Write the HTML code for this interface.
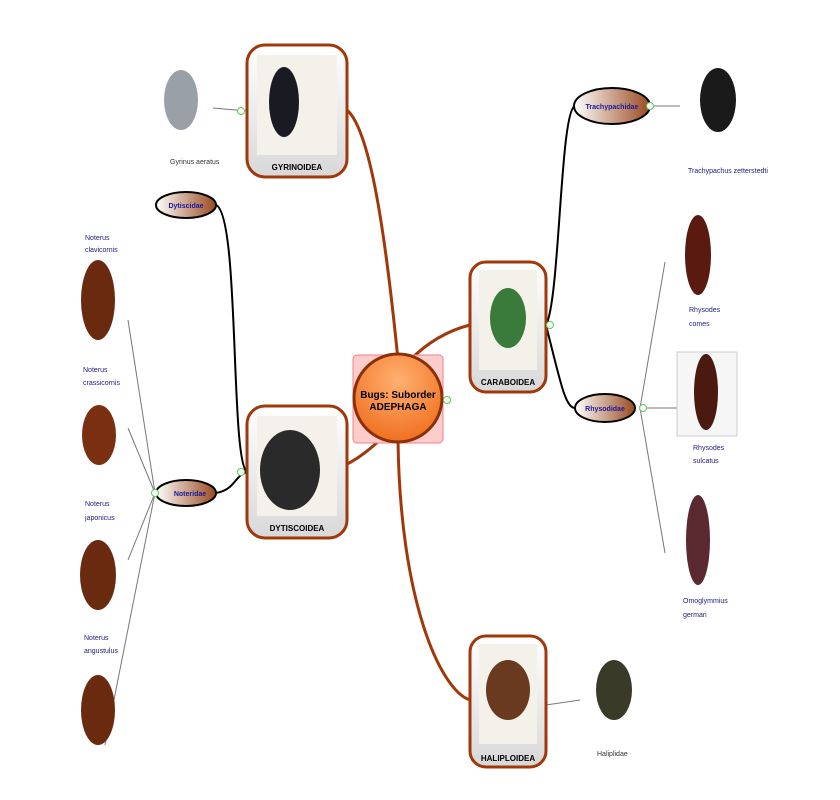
<!DOCTYPE html>
<html><head><meta charset="utf-8"><style>
html,body{margin:0;padding:0;background:#fff;}
svg{display:block;font-family:"Liberation Sans",sans-serif;}
</style></head><body>
<svg width="840" height="800" viewBox="0 0 840 800" xmlns="http://www.w3.org/2000/svg">
<defs>
<radialGradient id="og" cx="0.5" cy="0.3" r="0.7"><stop offset="0" stop-color="#ffb070"/><stop offset="1" stop-color="#f07020"/></radialGradient>
<linearGradient id="eg" x1="0" x2="1"><stop offset="0" stop-color="#fff"/><stop offset="1" stop-color="#9a4a20"/></linearGradient>
<linearGradient id="bg" x1="0" x2="0" y1="0" y2="1"><stop offset="0" stop-color="#fff"/><stop offset="1" stop-color="#d8d8d8"/></linearGradient>
</defs>
<g fill="none" stroke="#777" stroke-width="1">
<line x1="155" y1="493" x2="128" y2="320"/><line x1="155" y1="493" x2="128" y2="428"/>
<line x1="155" y1="493" x2="128" y2="560"/><line x1="155" y1="493" x2="105" y2="745"/>
<line x1="640" y1="408" x2="665" y2="262"/><line x1="640" y1="408" x2="677" y2="408"/>
<line x1="640" y1="408" x2="665" y2="553"/><line x1="650" y1="106" x2="680" y2="106"/>
<line x1="546" y1="705" x2="580" y2="700"/><line x1="213" y1="108" x2="247" y2="111"/>
</g>
<g fill="none" stroke="#a0380a" stroke-width="3">
<path d="M398 360 C385 230 370 130 347 110"/>
<path d="M385 435 C360 460 340 470 322 472"/>
<path d="M410 360 C430 340 450 330 470 325"/>
<path d="M398 440 C400 600 440 690 470 700"/>
</g>
<g fill="none" stroke="#000" stroke-width="2">
<path d="M546 325 C560 300 560 110 575 106"/>
<path d="M546 325 C560 380 565 408 575 408"/>
<path d="M216 205 C240 215 230 460 247 472"/>
<path d="M216 493 C235 490 235 475 247 472"/>
</g>
<rect x="353" y="355" width="90" height="88" rx="4" fill="#ffcccc" stroke="#f08080"/>
<circle cx="398" cy="398" r="44" fill="url(#og)" stroke="#8a3008" stroke-width="3"/>
<text x="398" y="398" font-size="10" font-weight="bold" text-anchor="middle">Bugs: Suborder</text>
<text x="398" y="410" font-size="10" font-weight="bold" text-anchor="middle">ADEPHAGA</text>
<g fill="url(#bg)" stroke="#a0380a" stroke-width="3">
<rect x="247" y="45" width="100" height="132" rx="18"/>
<rect x="247" y="406" width="100" height="132" rx="18"/>
<rect x="470" y="262" width="76" height="130" rx="16"/>
<rect x="470" y="636" width="76" height="131" rx="16"/>
</g>
<g fill="#f4f1ea">
<rect x="257" y="55" width="80" height="100"/><rect x="257" y="416" width="80" height="100"/>
<rect x="479" y="270" width="58" height="100"/><rect x="479" y="644" width="58" height="100"/>
</g>
<g font-size="8" font-weight="bold" text-anchor="middle">
<text x="297" y="170">GYRINOIDEA</text><text x="297" y="531">DYTISCOIDEA</text>
<text x="508" y="385">CARABOIDEA</text><text x="508" y="761">HALIPLOIDEA</text>
</g>
<g>
<ellipse cx="284" cy="102" rx="15" ry="35" fill="#1a1a22"/>
<ellipse cx="290" cy="470" rx="30" ry="40" fill="#2a2a2a"/>
<ellipse cx="508" cy="318" rx="18" ry="30" fill="#3a7a3a"/>
<ellipse cx="508" cy="690" rx="22" ry="30" fill="#6a3a20"/>
<ellipse cx="181" cy="100" rx="17" ry="30" fill="#9aa0a8"/>
<ellipse cx="98" cy="300" rx="17" ry="40" fill="#6a2a10"/>
<ellipse cx="99" cy="435" rx="17" ry="30" fill="#7a3010"/>
<ellipse cx="98" cy="575" rx="18" ry="35" fill="#6a2a10"/>
<ellipse cx="98" cy="710" rx="17" ry="35" fill="#6a2a10"/>
<ellipse cx="718" cy="100" rx="18" ry="32" fill="#1a1a1a"/>
<ellipse cx="698" cy="255" rx="13" ry="40" fill="#5a1a10"/>
<rect x="677" y="352" width="60" height="84" fill="#f6f6f6" stroke="#ccc"/>
<ellipse cx="706" cy="392" rx="12" ry="38" fill="#4a1a10"/>
<ellipse cx="698" cy="540" rx="12" ry="45" fill="#5a2a30"/>
<ellipse cx="614" cy="690" rx="18" ry="30" fill="#3a3a28"/>
</g>
<g stroke="#000" stroke-width="2">
<ellipse cx="186" cy="205" rx="30" ry="13" fill="url(#eg)"/>
<ellipse cx="186" cy="493" rx="30" ry="13" fill="url(#eg)"/>
<ellipse cx="612" cy="106" rx="38" ry="18" fill="url(#eg)"/>
<ellipse cx="605" cy="408" rx="30" ry="14" fill="url(#eg)"/>
</g>
<g font-size="7" font-weight="bold" fill="#1a1a9a" text-anchor="middle">
<text x="186" y="208">Dytiscidae</text><text x="190" y="496">Noteridae</text>
<text x="612" y="109">Trachypachidae</text><text x="605" y="411">Rhysodidae</text>
</g>
<g fill="#fff" stroke="#5c5" stroke-width="1">
<circle cx="241" cy="111" r="3.5"/><circle cx="241" cy="472" r="3.5"/><circle cx="155" cy="493" r="3.5"/>
<circle cx="447" cy="400" r="3.5"/><circle cx="550" cy="325" r="3.5"/><circle cx="650" cy="106" r="3.5"/>
<circle cx="643" cy="408" r="3.5"/>
</g>
<g font-size="7" fill="#1a1a7a">
<text x="170" y="164" fill="#333">Gyrinus aeratus</text>
<text x="85" y="240">Noterus</text><text x="85" y="252">clavicornis</text>
<text x="83" y="372">Noterus</text><text x="83" y="385">crassicornis</text>
<text x="85" y="506">Noterus</text><text x="85" y="520">japonicus</text>
<text x="84" y="640">Noterus</text><text x="84" y="653">angustulus</text>
<text x="688" y="173">Trachypachus zetterstedti</text>
<text x="689" y="312">Rhysodes</text><text x="689" y="326">comes</text>
<text x="693" y="450">Rhysodes</text><text x="693" y="463">sulcatus</text>
<text x="683" y="603">Omoglymmius</text><text x="683" y="617">germari</text>
<text x="597" y="756" fill="#333">Haliplidae</text>
</g>
</svg>
</body></html>
